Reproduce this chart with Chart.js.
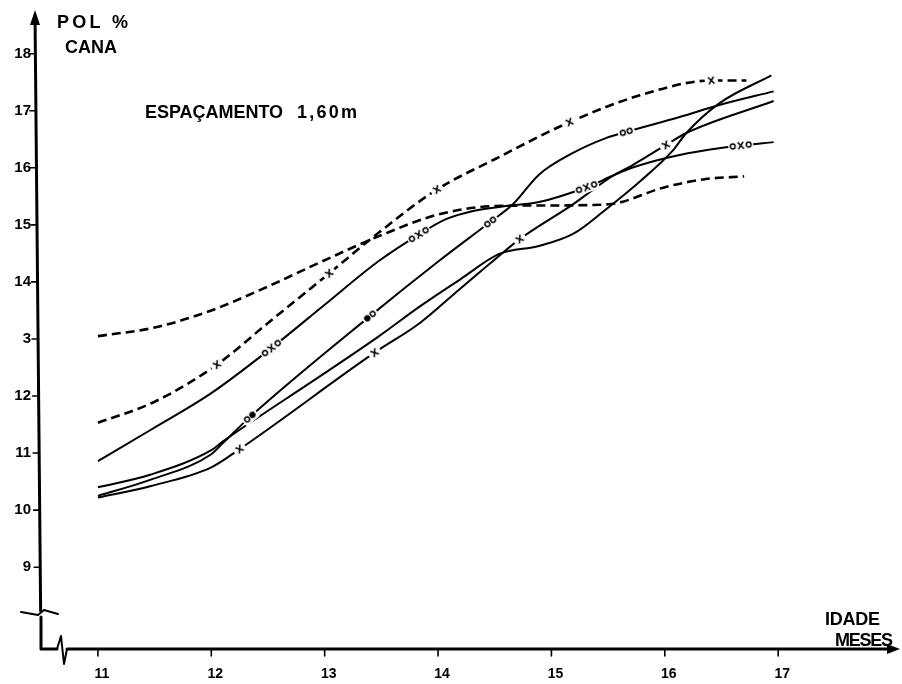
<!DOCTYPE html>
<html><head><meta charset="utf-8">
<script src="https://cdn.jsdelivr.net/npm/chart.js@4/dist/chart.umd.min.js"></script>
<style>html,body{margin:0;padding:0;background:#fff}#wrap{width:902px;height:684px;position:relative}canvas{display:block}</style>
</head><body><div id="wrap"><canvas id="c" width="902" height="684"></canvas></div>
<script>
// ---- ticks ----
const X_TICKS = [11, 12, 13, 14, 15, 16, 17];
const Y_TICKS = [9, 10, 11, 12, 13, 14, 15, 16, 17, 18];
const Y_TICK_TEXT = ['9', '10', '11', '12', '3', '14', '15', '16', '17', '18'];

// ---- curve A: dashed, plain ----
const A_x = [11, 11.5, 12, 12.5, 13, 13.5, 14, 14.5, 15, 15.5, 16, 16.35, 16.7];
const A_y = [13.05, 13.2, 13.5, 13.92, 14.38, 14.82, 15.18, 15.33, 15.34, 15.36, 15.66, 15.8, 15.85];
// ---- curve B: dashed, x markers ----
const B_x = [11, 11.5, 12.05, 12.5, 13.04, 13.5, 13.99, 14.5, 15.16, 15.78, 16.41, 16.72];
const B_y = [11.53, 11.9, 12.55, 13.28, 14.15, 14.9, 15.62, 16.15, 16.8, 17.27, 17.53, 17.53];
// ---- curve C: solid, oxo markers ----
const C_x = [11, 11.46, 12, 12.53, 13, 13.48, 13.83, 14.07, 14.3, 14.6, 14.89, 15.31, 15.54, 15.71, 16.05, 16.4, 16.67, 16.96];
const C_y = [10.86, 11.4, 12.05, 12.84, 13.6, 14.37, 14.83, 15.1, 15.24, 15.33, 15.4, 15.66, 15.86, 16.0, 16.19, 16.32, 16.39, 16.45];
// ---- curve D: solid, oo markers ----
const D_x = [11, 11.46, 12, 12.1, 12.34, 13.4, 14.01, 14.46, 14.66, 14.89, 15.19, 15.48, 15.66, 16.13, 16.48, 16.96];
const D_y = [10.25, 10.53, 10.98, 11.17, 11.63, 13.4, 14.37, 15.05, 15.36, 15.88, 16.26, 16.52, 16.63, 16.89, 17.1, 17.34];
// ---- curve E: solid, x markers ----
const E_x = [11, 11.46, 12, 12.25, 13.44, 13.84, 14.2, 14.54, 14.72, 15.19, 15.54, 15.71, 16.01, 16.19, 16.96];
const E_y = [10.22, 10.42, 10.75, 11.07, 12.76, 13.28, 13.89, 14.46, 14.75, 15.36, 15.86, 16.04, 16.4, 16.61, 17.17];
// ---- curve F: solid, plain ----
const F_x = [11, 11.46, 12, 12.1, 13.0, 13.48, 13.84, 14.2, 14.54, 14.89, 15.19, 15.48, 15.78, 16.07, 16.19, 16.48, 16.94];
const F_y = [10.4, 10.62, 11.05, 11.2, 12.4, 13.05, 13.57, 14.05, 14.49, 14.63, 14.84, 15.27, 15.76, 16.3, 16.61, 17.13, 17.62];

// ---- markers ----
const MB_x = [12.05, 13.04, 13.99, 15.16, 16.41];
const MB_y = [12.55, 14.15, 15.62, 16.8, 17.53];
const MC_x = [12.53, 13.83, 15.31, 16.67];
const MC_y = [12.84, 14.83, 15.66, 16.39];
const MD_x = [12.34, 13.4, 14.46, 15.66];
const MD_y = [11.63, 13.4, 15.05, 16.63];
const MD_kind = ['of', 'fo', 'oo', 'oo'];
const ME_x = [12.25, 13.44, 14.72, 16.01];
const ME_y = [11.07, 12.76, 14.75, 16.4];

function pts(xs, ys) { return xs.map((x, i) => ({x: x, y: ys[i]})); }

// marker glyph canvases
function glyph(kind) {
  const w = kind === 'x' ? 13 : (kind === 'oxo' ? 25 : 17), h = 11;
  const c = document.createElement('canvas'); c.width = w; c.height = h;
  const g = c.getContext('2d');
  g.fillStyle = '#fff'; g.fillRect(0, 0, w, h);
  g.strokeStyle = '#000'; g.fillStyle = '#000'; g.lineWidth = 1.5;
  function circ(cx, filled) { g.beginPath(); g.arc(cx, h / 2, 2.4, 0, Math.PI * 2); if (filled) g.fill(); g.stroke(); }
  function cross(cx) { g.beginPath(); g.moveTo(cx - 2.8, 2); g.lineTo(cx + 2.8, 9); g.moveTo(cx + 2.8, 2); g.lineTo(cx - 2.8, 9); g.stroke(); }
  if (kind === 'x') cross(6.5);
  else if (kind === 'oxo') { circ(4.5); cross(12.5); circ(20.5); }
  else { circ(5, kind[0] === 'f'); circ(12, kind[1] === 'f'); }
  return c;
}
const G = {x: glyph('x'), oxo: glyph('oxo'), oo: glyph('oo'), of: glyph('of'), fo: glyph('fo')};

function rot(lx, ly) {
  return function (ctx) {
    const ch = ctx.chart, sx = ch.scales.x, sy = ch.scales.y;
    const p = ctx.raw; if (!p) return 0;
    let j = 0, best = 1e9;
    lx.forEach((v, i) => { const d = Math.abs(v - p.x); if (d < best) { best = d; j = i; } });
    const a = Math.max(0, j - 1), b = Math.min(lx.length - 1, j + 1);
    const dx = sx.getPixelForValue(lx[b]) - sx.getPixelForValue(lx[a]);
    const dy = sy.getPixelForValue(ly[b]) - sy.getPixelForValue(ly[a]);
    return Math.atan2(dy, dx) * 180 / Math.PI;
  };
}

function lineDs(xs, ys, dashed) {
  return {data: pts(xs, ys), borderColor: '#000', borderWidth: dashed ? 2.6 : 2, borderDash: dashed ? [9, 5] : [],
    pointRadius: 0, fill: false, cubicInterpolationMode: 'monotone', order: 2};
}
function markDs(xs, ys, styles, lx, ly) {
  return {data: pts(xs, ys), showLine: false, pointRadius: 3, pointStyle: styles, rotation: rot(lx, ly), order: 1};
}

const axisPlugin = {
  id: 'handAxes',
  afterDraw(chart) {
    const c = chart.ctx, ca = chart.chartArea, sx = chart.scales.x, sy = chart.scales.y;
    const yb = ca.bottom, xl = ca.left;
    const axX = py => 35 + (py - 13) * (6 / 636);
    c.save();
    c.strokeStyle = '#000'; c.fillStyle = '#000'; c.lineCap = 'round'; c.lineJoin = 'round';
    // y axis (slightly slanted, hand drawn)
    c.lineWidth = 3;
    c.beginPath(); c.moveTo(axX(20), 20); c.lineTo(axX(611), 611); c.stroke();
    c.beginPath(); c.moveTo(xl, 617); c.lineTo(xl, yb); c.lineTo(57, yb); c.stroke();
    // y break
    c.lineWidth = 2;
    c.beginPath(); c.moveTo(21, 612); c.lineTo(38, 615); c.lineTo(44, 610); c.lineTo(58, 614); c.stroke();
    // x break
    c.beginPath(); c.moveTo(57, yb); c.lineTo(61, 636); c.lineTo(64, 664); c.lineTo(67, yb); c.stroke();
    c.lineWidth = 3;
    c.beginPath(); c.moveTo(67, yb); c.lineTo(890, yb); c.stroke();
    // arrows
    c.beginPath(); c.moveTo(35, 10); c.lineTo(30, 25); c.lineTo(40, 25); c.closePath(); c.fill();
    c.beginPath(); c.moveTo(900, yb); c.lineTo(887, yb - 5); c.lineTo(887, yb + 5); c.closePath(); c.fill();
    // tick marks
    c.lineWidth = 1.6;
    X_TICKS.forEach(v => { const px = sx.getPixelForValue(v); c.beginPath(); c.moveTo(px, yb); c.lineTo(px, yb + 7); c.stroke(); });
    Y_TICKS.forEach(v => { const py = sy.getPixelForValue(v); const ax = axX(py); c.beginPath(); c.moveTo(ax - 6, py); c.lineTo(ax, py); c.stroke(); });
    // texts
    function txt(s, x, base, w, size) {
      c.font = 'bold ' + (size || 18) + 'px "Liberation Sans", Arial, sans-serif';
      c.letterSpacing = '0px';
      const nat = c.measureText(s).width;
      if (w && s.length > 1) c.letterSpacing = ((w - nat) / (s.length - 1)).toFixed(2) + 'px';
      c.textBaseline = 'alphabetic'; c.textAlign = 'left';
      c.fillText(s, x, base);
    }
    txt('POL %', 57, 28, 71);
    txt('CANA', 65, 53, 52);
    txt('ESPAÇAMENTO', 145, 118, 138);
    txt('1,60m', 297, 118, 60);
    txt('IDADE', 825, 625, 55);
    txt('MESES', 835, 646, 58);
    c.restore();
  }
};

const tickFont = {family: '"Liberation Sans", Arial, sans-serif', weight: 'bold', size: 14};

new Chart(document.getElementById('c'), {
  type: 'line',
  data: {
    datasets: [
      lineDs(A_x, A_y, true),
      lineDs(B_x, B_y, true),
      lineDs(C_x, C_y, false),
      lineDs(D_x, D_y, false),
      lineDs(E_x, E_y, false),
      lineDs(F_x, F_y, false),
      markDs(MB_x, MB_y, MB_x.map(() => G.x), B_x, B_y),
      markDs(MC_x, MC_y, MC_x.map(() => G.oxo), C_x, C_y),
      markDs(MD_x, MD_y, MD_kind.map(k => G[k]), D_x, D_y),
      markDs(ME_x, ME_y, ME_x.map(() => G.x), E_x, E_y)
    ]
  },
  options: {
    responsive: false, animation: false, devicePixelRatio: 1,
    layout: {padding: {top: 13, right: 4, left: 0, bottom: 0}},
    plugins: {legend: {display: false}, tooltip: {enabled: false}},
    scales: {
      x: {
        type: 'linear', min: 10.498, max: 18.048,
        afterBuildTicks: s => { s.ticks = X_TICKS.map(v => ({value: v})); },
        afterFit: s => { s.height = 35; },
        grid: {display: true, drawOnChartArea: false, drawTicks: false},
        border: {display: false},
        ticks: {color: '#000', font: tickFont, padding: 17, labelOffset: 4, maxRotation: 0, autoSkip: false,
          callback: (v) => String(v)}
      },
      y: {
        type: 'linear', min: 7.566, max: 18.608,
        afterBuildTicks: s => { s.ticks = Y_TICKS.map(v => ({value: v})); },
        afterFit: s => { s.width = 41; },
        grid: {display: true, drawOnChartArea: false, drawTicks: false},
        border: {display: false},
        ticks: {color: '#000', font: Object.assign({}, tickFont, {size: 15}), padding: 10, autoSkip: false,
          callback: (v, i) => Y_TICK_TEXT[i]}
      }
    }
  },
  plugins: [axisPlugin]
});
</script>
</body></html>
